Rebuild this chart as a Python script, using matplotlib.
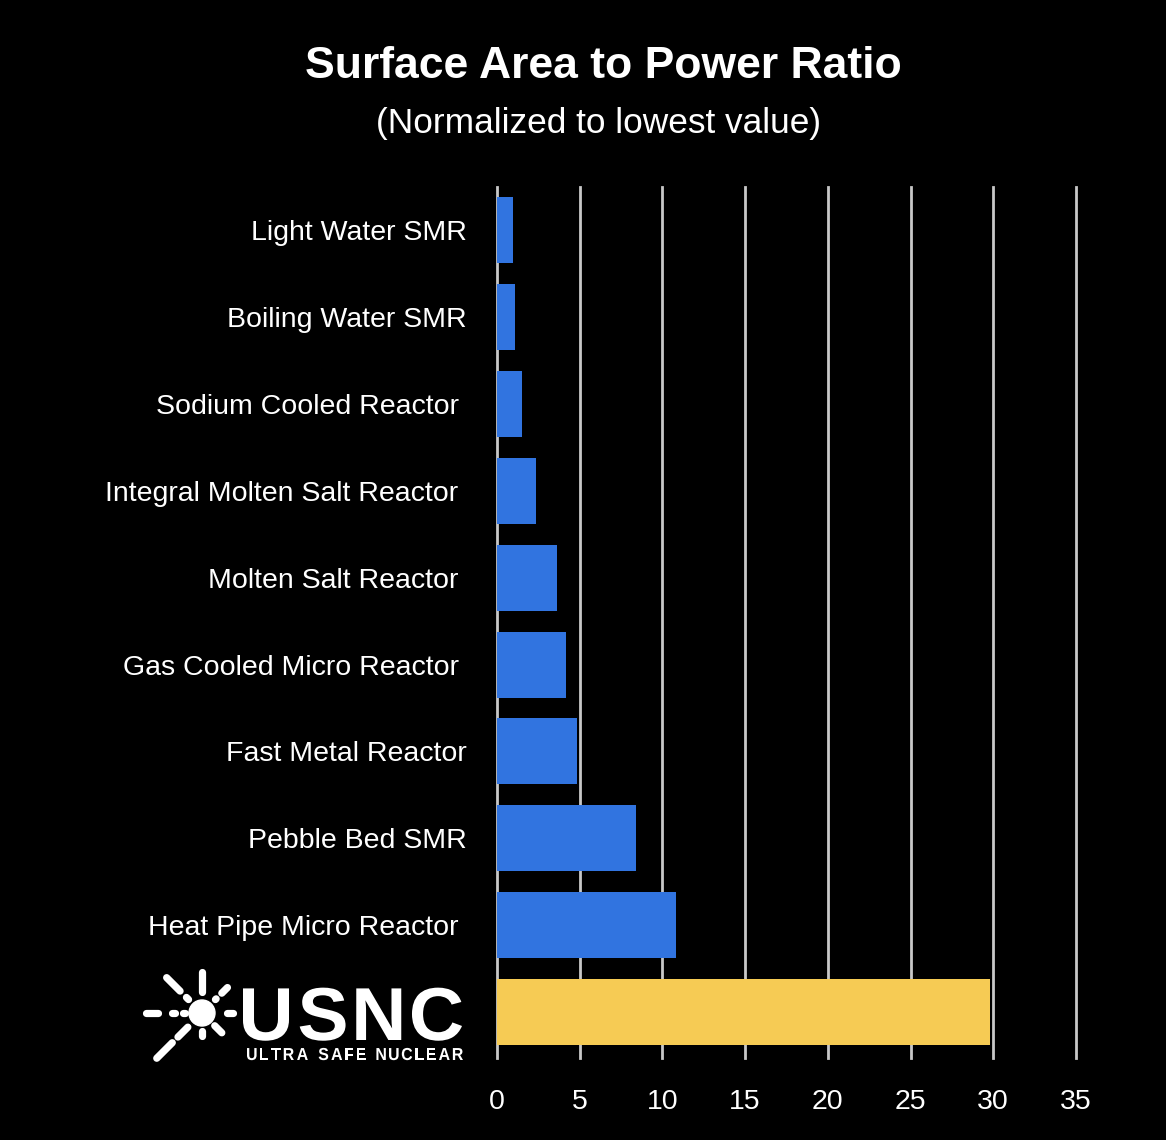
import matplotlib
matplotlib.use("Agg")
import matplotlib.pyplot as plt
from matplotlib.textpath import TextPath
from matplotlib.patches import PathPatch
from matplotlib.font_manager import FontProperties
from matplotlib.transforms import Affine2D
import numpy as np

plt.rcParams['font.family'] = ['Liberation Sans', 'DejaVu Sans']

# data, top to bottom
reactors = ['Light Water SMR', 'Boiling Water SMR', 'Sodium Cooled Reactor ',
            'Integral Molten Salt Reactor ', 'Molten Salt Reactor ',
            'Gas Cooled Micro Reactor ', 'Fast Metal Reactor',
            'Pebble Bed SMR', 'Heat Pipe Micro Reactor ', '']
ratios = [1.0, 1.1, 1.5, 2.35, 3.65, 4.2, 4.85, 8.4, 10.8, 29.8]
xticks = [0, 5, 10, 15, 20, 25, 30, 35]

blue = '#3174E0'
yellow = '#F6CB54'
colors = [blue] * 9 + [yellow]

fig = plt.figure(figsize=(11.66, 11.40), dpi=100, facecolor='black')
ax = fig.add_axes([0.4262, 0.0719, 0.4966, 0.7641], facecolor='black')

y = np.arange(len(reactors))
ax.barh(y, ratios, height=0.76, color=colors, zorder=3)
ax.set_ylim(len(reactors) - 0.47, -0.5)
ax.set_xlim(0, 35)
ax.set_xticks(xticks)
ax.set_yticks(y)
ax.set_yticklabels(reactors)
ax.tick_params(axis='y', length=0, pad=22, labelsize=20.5, labelcolor='white')
ax.tick_params(axis='x', length=0, pad=22, labelsize=20.5, labelcolor='white')
ax.grid(axis='x', color='#C8C8C8', linewidth=2, zorder=0)
for gl in ax.get_xgridlines():
    gl.set_clip_on(False)
for s in ax.spines.values():
    s.set_visible(False)

fig.text(603 / 1166, 1 - 67 / 1140, 'Surface Area to Power Ratio', ha='center', va='center',
         color='white', fontsize=32, fontweight='bold')
fig.text(599 / 1166, 1 - 123 / 1140, '(Normalized to lowest value)', ha='center', va='center',
         color='white', fontsize=25.4)

# USNC logo, drawn in pixel coords
lg = fig.add_axes([0, 0, 1, 1], facecolor='none')
lg.set_xlim(0, 1166)
lg.set_ylim(1140, 0)
lg.axis('off')
bold = FontProperties(family='Liberation Sans', weight='bold')


def fit_text(s, x0, x1, ybase, cap, track=0.0):
    # letters laid out one by one (with tracking), then scaled to fit x0..x1
    pieces, x = [], 0.0
    for ch in s:
        if ch == ' ':
            x += 28 + track
            continue
        tp = TextPath((0, 0), ch, size=100, prop=bold)
        ext = tp.get_extents()
        pieces.append((tp, x - ext.x0))
        x += ext.width + track
    total = x - track
    sx = (x1 - x0) / total
    sy = cap / 72.0
    for tp, off in pieces:
        tr = Affine2D().translate(off, 0).scale(sx, -sy).translate(x0, ybase)
        lg.add_patch(PathPatch(tr.transform_path(tp), color='white', lw=0))


fit_text('USNC', 243, 462, 1040, 54, track=14)
fit_text('ULTRA SAFE NUCLEAR', 247, 463, 1060, 12.5, track=20)

cx, cy = 202, 1013
lg.add_patch(plt.Circle((cx, cy), 13, color='white'))
spokes = [(90, 19, 43), (180, 15, 21), (180, 25, 32), (180, 42, 58),
          (0, 16, 20), (0, 23, 33), (135, 17, 24), (135, 29, 52),
          (45, 17, 22), (45, 26, 38), (270, 16, 25), (315, 16, 30),
          (225, 18, 36), (225, 40, 66)]
for ang, r0, r1 in spokes:
    a = np.deg2rad(ang)
    r0, r1 = r0 + 2, r1 - 2
    lg.plot([cx + r0 * np.cos(a), cx + r1 * np.cos(a)],
            [cy - r0 * np.sin(a), cy - r1 * np.sin(a)],
            color='white', lw=5.2, solid_capstyle='round')

fig.savefig('out.png', dpi=100, facecolor='black')
